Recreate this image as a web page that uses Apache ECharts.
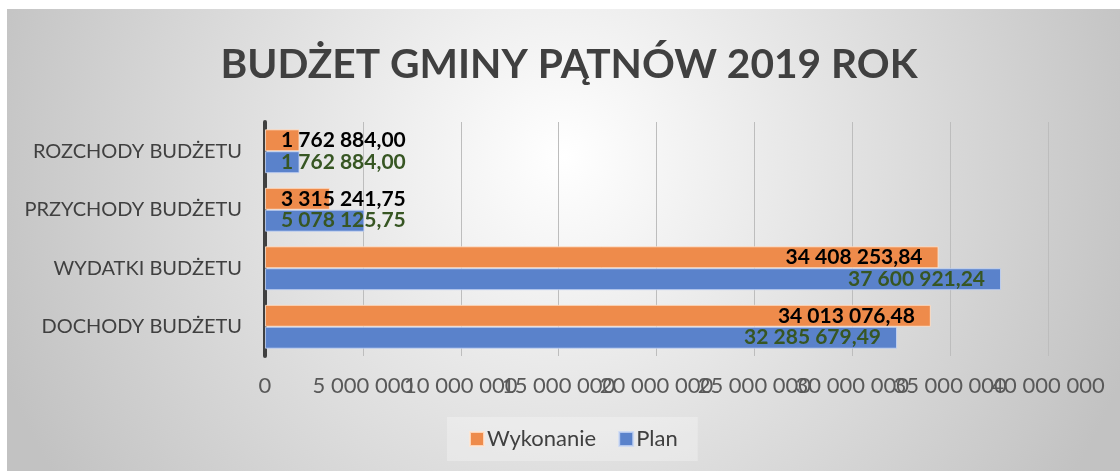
<!DOCTYPE html>
<html>
<head>
<meta charset="utf-8">
<script src="https://cdn.jsdelivr.net/npm/echarts@6/dist/echarts.min.js"></script>
<style>
  html, body { margin: 0; padding: 0; background: #ffffff; width: 1120px; height: 471px; overflow: hidden; }
  #chart { position: absolute; left: 7px; top: 9px; width: 1113px; height: 462px; }
</style>
</head>
<body>
<div id="chart"></div>
<script>
// ---- data ----
const categories = ['DOCHODY BUDŻETU', 'WYDATKI BUDŻETU', 'PRZYCHODY BUDŻETU', 'ROZCHODY BUDŻETU'];
const seriesNames = ['Wykonanie', 'Plan'];
const wykonanie = [34013076.48, 34408253.84, 3315241.75, 1762884.00];
const plan = [32285679.49, 37600921.24, 5078125.75, 1762884.00];
const axisMin = 0;
const axisMax = 40000000;
const axisStep = 5000000;
const titleText = 'BUDŻET GMINY PĄTNÓW 2019 ROK';

function groupDigits(intStr) {
  return intStr.replace(/\B(?=(\d{3})+(?!\d))/g, ' ');
}
function fmt(v, dec) {
  const s = v.toFixed(dec);
  const parts = s.split('.');
  return groupDigits(parts[0]) + (dec > 0 ? ',' + parts[1] : '');
}

const FONT = 'Lato, "Open Sans", sans-serif';

function buildData(values) {
  return values.map(v => ({
    value: v,
    label: {
      position: v < 10000000 ? 'insideLeft' : 'insideRight'
    }
  }));
}

// ECharts hides a label next to the end label when they overlap; the reference
// (Excel) shows all of them overlapping, so the second-to-last tick label is
// drawn on a twin axis with the same scale.
const secondLast = axisMax - axisStep;

const axisLabelBase = {
  fontFamily: FONT, fontSize: 22, color: '#595959', margin: 19,
  hideOverlap: false, showMinLabel: true, showMaxLabel: true
};

const chart = echarts.init(document.getElementById('chart'), null, { renderer: 'canvas' });

const option = {
  backgroundColor: {
    type: 'radial', x: 0.5, y: 0.32, r: 1.3,
    colorStops: [
      { offset: 0, color: '#ffffff' },
      { offset: 1, color: '#c2c2c2' }
    ]
  },
  textStyle: { fontFamily: FONT },
  title: {
    text: titleText,
    left: 557,
    textAlign: 'center',
    top: 30,
    textStyle: { fontFamily: FONT, fontWeight: 'bold', fontSize: 40.7, color: '#404040' }
  },
  legend: {
    data: seriesNames,
    left: 440,
    top: 408,
    orient: 'horizontal',
    backgroundColor: 'rgba(255,255,255,0.28)',
    padding: [11, 20, 11, 22],
    itemWidth: 14,
    itemHeight: 14,
    itemGap: 22,
    icon: 'rect',
    textStyle: { fontFamily: FONT, fontSize: 22, color: '#404040', padding: [0, 0, 0, -2] }
  },
  grid: { left: 258, right: 72, top: 113, bottom: 115, containLabel: false, outerBoundsMode: 'none' },
  xAxis: [
    {
      type: 'value',
      min: axisMin,
      max: axisMax,
      interval: axisStep,
      axisLine: { show: false },
      axisTick: { show: false },
      splitLine: { show: true, lineStyle: { color: '#bdbdbd', width: 1 } },
      axisLabel: Object.assign({}, axisLabelBase, {
        formatter: v => (v === secondLast ? '' : fmt(v, 0))
      })
    },
    {
      type: 'value',
      position: 'bottom',
      min: axisMin,
      max: axisMax,
      interval: axisStep,
      axisLine: { show: false },
      axisTick: { show: false },
      splitLine: { show: false },
      axisLabel: Object.assign({}, axisLabelBase, {
        formatter: v => (v === secondLast ? fmt(v, 0) : '')
      })
    }
  ],
  yAxis: {
    type: 'category',
    data: categories,
    axisLine: { show: true, lineStyle: { color: '#404040', width: 4 } },
    axisTick: { show: false },
    axisLabel: { fontFamily: FONT, fontSize: 20, color: '#404040', margin: 23 }
  },
  series: [
    {
      name: seriesNames[0],
      type: 'bar',
      xAxisIndex: 0,
      data: buildData(wykonanie),
      barGap: '0%',
      barCategoryGap: '25%',
      itemStyle: { color: '#ee8b4b', borderColor: 'rgba(255,230,210,0.8)', borderWidth: 1 },
      label: {
        show: true, distance: 16, color: '#000000', fontWeight: 'bold', fontSize: 21, fontFamily: FONT,
        formatter: p => fmt(p.value, 2)
      }
    },
    {
      name: seriesNames[1],
      type: 'bar',
      xAxisIndex: 0,
      data: buildData(plan),
      barGap: '0%',
      barCategoryGap: '25%',
      itemStyle: { color: '#5a82cb', borderColor: 'rgba(200,215,245,0.8)', borderWidth: 1 },
      label: {
        show: true, distance: 16, color: '#375623', fontWeight: 'bold', fontSize: 21, fontFamily: FONT,
        formatter: p => fmt(p.value, 2)
      }
    }
  ]
};
chart.setOption(option);
</script>
</body>
</html>
